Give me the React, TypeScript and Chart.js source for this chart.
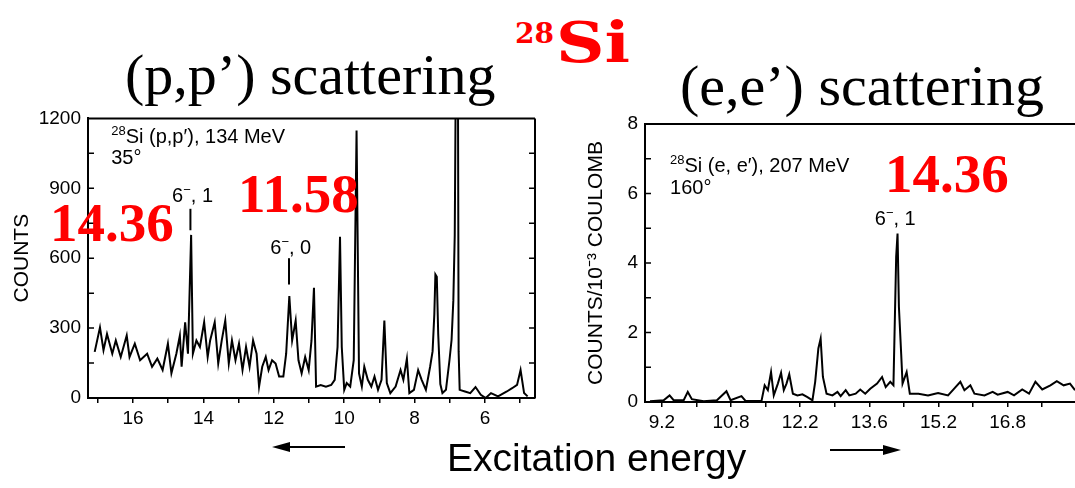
import React, { useEffect, useRef } from "react";
import { Chart, registerables } from "chart.js";
Chart.register(...registerables);

// ---- (p,p') spectrum, 28Si, 134 MeV, 35 deg ----
const ppEnergy = [17.09,16.94,16.84,16.74,16.59,16.49,16.35,16.18,16.10,15.95,15.80,15.60,15.46,15.31,15.16,15.01,14.91,14.77,14.67,14.62,14.52,14.44,14.35,14.30,14.20,14.10,13.98,13.88,13.81,13.68,13.58,13.48,13.38,13.28,13.19,13.09,12.99,12.89,12.79,12.69,12.59,12.49,12.42,12.33,12.23,12.15,12.05,11.95,11.85,11.73,11.65,11.56,11.48,11.38,11.30,11.21,11.11,11.01,10.93,10.86,10.80,10.67,10.52,10.37,10.27,10.19,10.12,10.07,10.00,9.93,9.83,9.73,9.65,9.58,9.50,9.43,9.33,9.23,9.14,9.04,8.94,8.86,8.79,8.69,8.54,8.40,8.32,8.22,8.15,8.02,7.90,7.80,7.68,7.56,7.49,7.44,7.41,7.37,7.33,7.27,7.21,7.11,7.01,6.95,6.90,6.86,6.83,6.77,6.75,6.72,6.57,6.42,6.27,6.12,5.98,5.83,5.63,5.38,5.23,5.09,4.99,4.89,4.79];
const ppCounts = [198,303,205,275,190,247,176,268,176,233,162,190,134,169,120,233,106,190,268,134,325,190,700,190,247,219,325,176,247,325,148,247,332,148,247,162,233,120,219,134,247,190,49,134,176,120,162,148,92,92,190,438,247,332,162,106,176,120,247,473,49,56,49,56,78,219,692,219,35,64,49,162,1148,106,49,134,78,49,92,35,78,332,64,21,49,120,78,169,21,35,120,78,35,134,200,360,530,520,275,60,21,35,162,250,420,700,1400,1400,200,35,28,21,47,14,0,21,7,28,42,56,120,21,7];
const ppXMin = 4.58;
const ppXMax = 17.28;
const ppYMax = 1200;
const ppYMinorTicks = [150,300,450,600,750,900,1050];

// ---- (e,e') spectrum, 28Si, 207 MeV, 160 deg ----
const eeEnergy = [8.94,9.24,9.37,9.46,9.68,9.77,9.86,10.12,10.41,10.62,10.71,10.95,11.04,11.39,11.46,11.53,11.60,11.66,11.75,11.82,11.88,11.94,12.00,12.08,12.18,12.29,12.40,12.51,12.57,12.64,12.69,12.74,12.82,12.95,13.06,13.13,13.24,13.32,13.46,13.56,13.67,13.78,13.93,14.04,14.12,14.22,14.29,14.35,14.38,14.41,14.46,14.49,14.58,14.65,14.84,15.05,15.27,15.49,15.62,15.76,15.85,15.98,16.07,16.29,16.47,16.58,16.80,16.94,17.12,17.27,17.41,17.56,17.74,17.88,18.03,18.17,18.28];
const eeCounts = [0.02,0.05,0.19,0.05,0.05,0.29,0.08,0.02,0.05,0.31,0.05,0.17,0.03,0.03,0.48,0.34,0.86,0.19,0.53,0.84,0.34,0.53,0.80,0.24,0.19,0.22,0.14,0.05,0.58,1.54,1.82,0.72,0.24,0.19,0.29,0.17,0.34,0.19,0.24,0.36,0.24,0.38,0.53,0.72,0.43,0.58,0.48,4.18,4.85,2.74,1.39,0.53,0.86,0.24,0.24,0.19,0.26,0.19,0.38,0.58,0.34,0.48,0.24,0.19,0.29,0.21,0.29,0.19,0.36,0.24,0.58,0.36,0.48,0.60,0.48,0.53,0.34];
const eeXMin = 8.83;
const eeXMax = 18.28;
const eeYMax = 8;
// tick marks sit evenly on the printed axis; labels as printed
const eeXTickValues = [9.2,9.96,10.72,11.48,12.24,13.0,13.76,14.52,15.28,16.04,16.8,17.56];
const eeXTickLabels = ["9.2","","10.8","","12.2","","13.6","","15.2","","16.8",""];
const eeYMinorTicks = [1,2,3,4,5,6,7];

const SANS = '"Liberation Sans", Arial, Helvetica, sans-serif';
const SERIF = '"Liberation Serif", "Times New Roman", serif';
const WIDE_SERIF = '"DejaVu Serif", "Liberation Serif", serif';

type Part = { t: string; sup?: boolean };
type Note = { x: number; y: number; parts: Part[]; align?: "left" | "center"; dash?: [number, number]; dashX?: number };

const scanPlugin = {
  id: "scan",
  afterDatasetsDraw(chart: any, _args: any, opts: any) {
    const { ctx, chartArea: a, scales } = chart;
    const xs = scales.x;
    const ys = scales.y;
    ctx.save();
    ctx.strokeStyle = "#000";
    ctx.lineWidth = 2;
    ctx.beginPath();
    ctx.moveTo(a.left, a.top);
    ctx.lineTo(a.right, a.top);
    if (opts.rightBorder) {
      ctx.moveTo(a.right, a.top);
      ctx.lineTo(a.right, a.bottom);
    }
    ctx.stroke();
    ctx.lineWidth = 1.5;
    ctx.beginPath();
    for (const v of opts.yMinor as number[]) {
      const y = ys.getPixelForValue(v);
      ctx.moveTo(a.left, y);
      ctx.lineTo(a.left + 6, y);
      if (opts.rightBorder) {
        ctx.moveTo(a.right, y);
        ctx.lineTo(a.right - 6, y);
      }
    }
    ctx.stroke();
    ctx.fillStyle = "#000";
    ctx.textBaseline = "alphabetic";
    ctx.textAlign = "left";
    for (const n of opts.notes as Note[]) {
      const big = `20px ${SANS}`;
      const small = `13px ${SANS}`;
      let w = 0;
      for (const p of n.parts) {
        ctx.font = p.sup ? small : big;
        w += ctx.measureText(p.t).width;
      }
      let x = xs.getPixelForValue(n.x);
      if (n.align === "center") x -= w / 2;
      const y = ys.getPixelForValue(n.y);
      for (const p of n.parts) {
        ctx.font = p.sup ? small : big;
        ctx.fillText(p.t, x, p.sup ? y - 8 : y);
        x += ctx.measureText(p.t).width;
      }
      if (n.dash) {
        const dx = xs.getPixelForValue(n.dashX ?? n.x);
        ctx.lineWidth = 2;
        ctx.beginPath();
        ctx.moveTo(dx, ys.getPixelForValue(n.dash[0]));
        ctx.lineTo(dx, ys.getPixelForValue(n.dash[1]));
        ctx.stroke();
      }
    }
    ctx.restore();
  },
};

function makeScales(o: any) {
  return {
    x: {
      type: "linear",
      min: o.xMin,
      max: o.xMax,
      reverse: o.reverse,
      afterBuildTicks: o.xTicks ? (s: any) => { s.ticks = o.xTicks.map((v: number) => ({ value: v })); } : undefined,
      afterFit: (s: any) => { s.height = o.xHeight; },
      border: { display: true, color: "#000", width: 2 },
      grid: { display: true, drawOnChartArea: false, drawTicks: true, tickLength: 5, color: "#000", lineWidth: 1.5 },
      ticks: {
        stepSize: 1,
        includeBounds: false,
        autoSkip: false,
        maxRotation: 0,
        color: "#000",
        padding: 4,
        font: { family: SANS, size: 19 },
        callback: o.xLabel,
      },
    },
    y: {
      type: "linear",
      min: 0,
      max: o.yMax,
      afterFit: (s: any) => { s.width = o.yWidth; },
      border: { display: true, color: "#000", width: 2 },
      grid: { display: false, drawTicks: false, tickLength: 0 },
      ticks: {
        stepSize: o.yStep,
        autoSkip: false,
        color: "#000",
        padding: 7,
        font: { family: SANS, size: 19 },
        callback: (v: number) => (v % o.yLabelEvery === 0 ? String(v) : ""),
      },
      title: {
        display: true,
        text: o.yTitle,
        color: "#000",
        font: { family: SANS, size: 21 },
        padding: { top: o.yTitlePad, bottom: 0 },
      },
    },
  };
}

function SpectrumChart(props: { cfg: any; width: number; height: number; left: number; top: number }) {
  const ref = useRef<HTMLCanvasElement | null>(null);
  useEffect(() => {
    if (!ref.current) return;
    const chart = new Chart(ref.current, props.cfg);
    return () => chart.destroy();
  }, []);
  return (
    <canvas
      ref={ref}
      width={props.width}
      height={props.height}
      style={{ position: "absolute", left: props.left, top: props.top, width: props.width, height: props.height }}
    />
  );
}

const ppConfig: any = {
  type: "line",
  data: {
    datasets: [
      {
        data: ppEnergy.map((e, i) => ({ x: e, y: ppCounts[i] })),
        borderColor: "#000",
        borderWidth: 2,
        pointRadius: 0,
        tension: 0,
        fill: false,
      },
    ],
  },
  options: {
    responsive: false,
    animation: false,
    layout: { padding: { top: 15, right: 8, left: 0, bottom: 0 } },
    plugins: {
      legend: { display: false },
      tooltip: { enabled: false },
      scan: {
        rightBorder: true,
        yMinor: ppYMinorTicks,
        notes: [
          { x: 16.62, y: 1095, parts: [{ t: "28", sup: true }, { t: "Si (p,p′), 134 MeV" }] },
          { x: 16.62, y: 1005, parts: [{ t: "35°" }] },
          { x: 14.31, y: 840, align: "center", parts: [{ t: "6" }, { t: "−", sup: true }, { t: ", 1" }], dash: [812, 720], dashX: 14.37 },
          { x: 11.52, y: 620, align: "center", parts: [{ t: "6" }, { t: "−", sup: true }, { t: ", 0" }], dash: [600, 487], dashX: 11.57 },
        ],
      },
    },
    scales: makeScales({
      xMin: ppXMin,
      xMax: ppXMax,
      reverse: true,
      xHeight: 47,
      xLabel: (v: number) => (v % 2 === 0 ? String(v) : ""),
      yMax: ppYMax,
      yWidth: 88,
      yStep: 150,
      yLabelEvery: 300,
      yTitle: "COUNTS",
      yTitlePad: 10,
    }),
  },
  plugins: [scanPlugin],
};

const eeConfig: any = {
  type: "line",
  data: {
    datasets: [
      {
        data: eeEnergy.map((e, i) => ({ x: e, y: eeCounts[i] })),
        borderColor: "#000",
        borderWidth: 2,
        pointRadius: 0,
        tension: 0,
        fill: false,
      },
    ],
  },
  options: {
    responsive: false,
    animation: false,
    layout: { padding: { top: 24, right: 0, left: 0, bottom: 0 } },
    plugins: {
      legend: { display: false },
      tooltip: { enabled: false },
      scan: {
        rightBorder: false,
        yMinor: eeYMinorTicks,
        notes: [
          { x: 9.38, y: 6.62, parts: [{ t: "28", sup: true }, { t: "Si (e, e′), 207 MeV" }] },
          { x: 9.38, y: 6.0, parts: [{ t: "160°" }] },
          { x: 14.33, y: 5.09, align: "center", parts: [{ t: "6" }, { t: "−", sup: true }, { t: ", 1" }] },
        ],
      },
    },
    scales: makeScales({
      xMin: eeXMin,
      xMax: eeXMax,
      reverse: false,
      xTicks: eeXTickValues,
      xHeight: 43,
      xLabel: (_v: number, i: number) => eeXTickLabels[i] ?? "",
      yMax: eeYMax,
      yWidth: 85,
      yStep: 1,
      yLabelEvery: 2,
      yTitle: "COUNTS/10⁻³ COULOMB",
      yTitlePad: 24,
    }),
  },
  plugins: [scanPlugin],
};

function Txt(p: { left: number; base: number; size: number; family: string; k: number; weight?: any; color?: string; sx?: number; children: any }) {
  return (
    <div
      style={{
        position: "absolute",
        left: p.left,
        top: p.base - p.k * p.size,
        fontSize: p.size,
        lineHeight: 1,
        fontFamily: p.family,
        fontWeight: p.weight ?? "normal",
        color: p.color ?? "#000",
        whiteSpace: "nowrap",
        transform: p.sx ? `scaleX(${p.sx})` : undefined,
        transformOrigin: "left center",
      }}
    >
      {p.children}
    </div>
  );
}

const kSerif = 0.8375;
const kSans = 0.8465;
const kDejaVu = 0.846;

export default function App() {
  return (
    <div style={{ position: "fixed", left: 0, top: 0, width: 1075, height: 488, background: "#fff", overflow: "hidden" }}>
      <SpectrumChart cfg={ppConfig} left={0} top={100} width={543} height={345} />
      <SpectrumChart cfg={eeConfig} left={560} top={100} width={515} height={345} />

      <Txt left={125} base={95} size={58} family={SERIF} k={kSerif}>(p,p’) scattering</Txt>
      <Txt left={680} base={106} size={58} family={SERIF} k={kSerif}>(e,e’) scattering</Txt>
      <Txt left={515} base={44} size={28} family={WIDE_SERIF} k={kDejaVu} weight="bold" color="#f00">28</Txt>
      <Txt left={556} base={61} size={56} family={WIDE_SERIF} k={kDejaVu} weight="bold" color="#f00" sx={1.2}>Si</Txt>

      <Txt left={50} base={241} size={55} family={SERIF} k={kSerif} weight="bold" color="#f00">14.36</Txt>
      <Txt left={238} base={212} size={55} family={SERIF} k={kSerif} weight="bold" color="#f00">11.58</Txt>
      <Txt left={885} base={192} size={55} family={SERIF} k={kSerif} weight="bold" color="#f00">14.36</Txt>

      <Txt left={447} base={471} size={39} family={SANS} k={kSans}>Excitation energy</Txt>

      <svg width={1075} height={488} style={{ position: "absolute", left: 0, top: 0, pointerEvents: "none" }}>
        <line x1={345} y1={447} x2={285} y2={447} stroke="#000" strokeWidth={2} />
        <polygon points="272,447 290,442 290,452" fill="#000" />
        <line x1={830} y1={450} x2={888} y2={450} stroke="#000" strokeWidth={2} />
        <polygon points="901,450 883,445 883,455" fill="#000" />
      </svg>
    </div>
  );
}
